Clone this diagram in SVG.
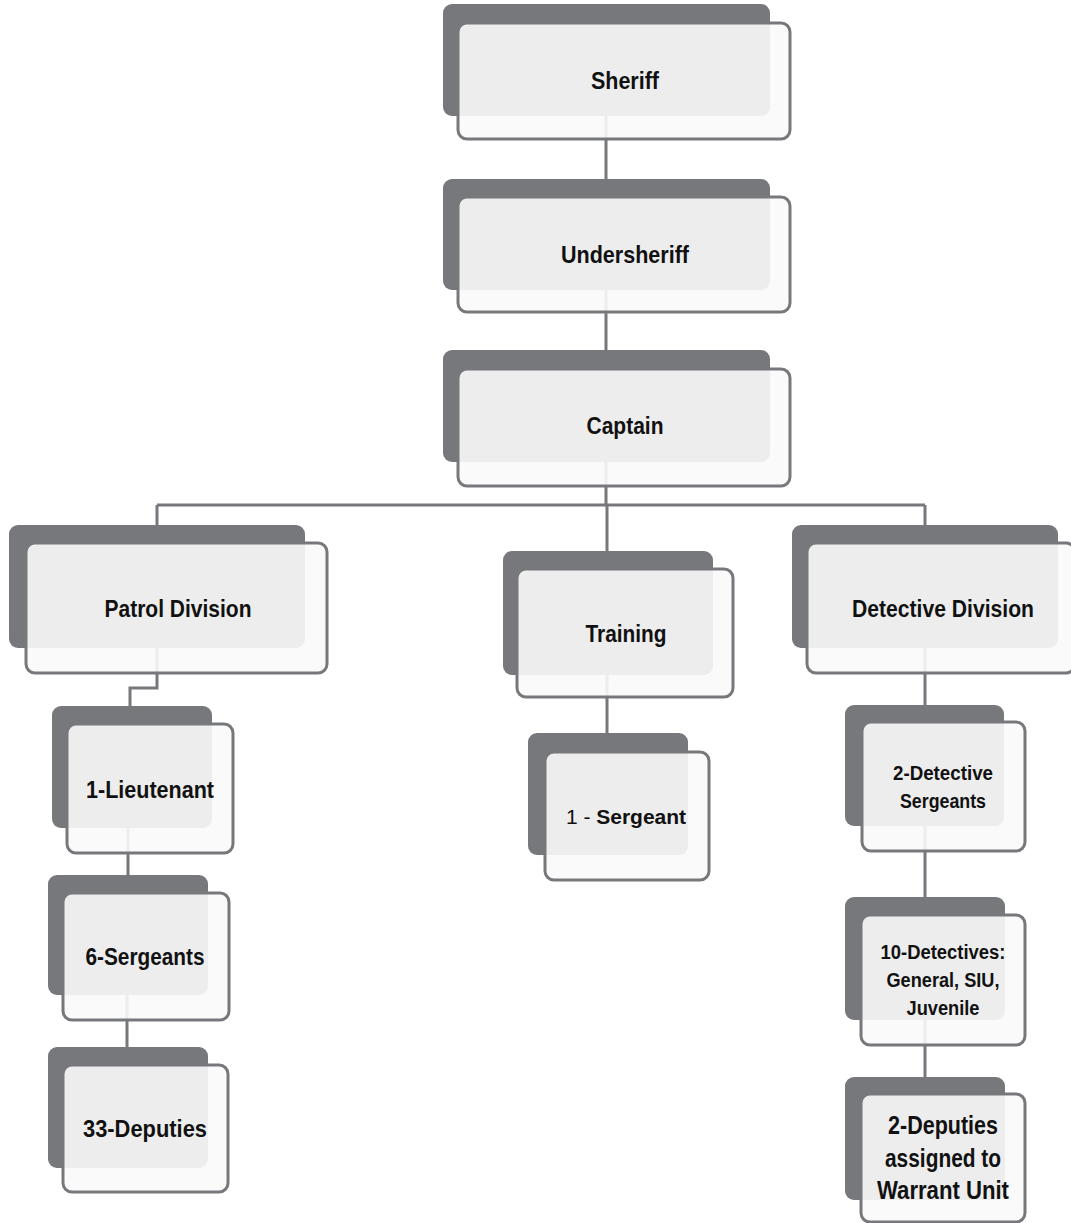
<svg xmlns="http://www.w3.org/2000/svg" width="1071" height="1223" viewBox="0 0 1071 1223">
<style>
.bk{fill:#77787c}
.fr{fill:#fafafa;fill-opacity:0.9;stroke:#77787c;stroke-width:3}
.t{font-family:"Liberation Sans",Arial,sans-serif;font-weight:bold;fill:#111;text-anchor:middle}
.n{font-weight:normal}
.c{fill:none;stroke:#77787c;stroke-width:3}
</style>
<rect width="1071" height="1223" fill="#fff"/>
<g id="connectors">
<path class="c" d="M606 110V185"/>
<path class="c" d="M606 285V356"/>
<path class="c" d="M606 455V505M157 505H925M157 505V530M607 505V556M925 505V530"/>
<path class="c" d="M157 640V688H130V712"/>
<path class="c" d="M128 820V880M127 990V1052"/>
<path class="c" d="M607 670V738"/>
<path class="c" d="M925 640V710M925 820V902M925 1015V1082"/>
</g>
<g id="sheriff">
<rect class="bk" x="443" y="4" width="327" height="112" rx="9"/>
<rect class="fr" x="458" y="23" width="332" height="116" rx="9"/>
<text class="t" x="625" y="89" font-size="24" textLength="68" lengthAdjust="spacingAndGlyphs">Sheriff</text>
</g>
<g id="undersheriff">
<rect class="bk" x="443" y="179" width="327" height="111" rx="9"/>
<rect class="fr" x="458" y="197" width="332" height="115" rx="9"/>
<text class="t" x="625" y="263" font-size="24" textLength="128" lengthAdjust="spacingAndGlyphs">Undersheriff</text>
</g>
<g id="captain">
<rect class="bk" x="443" y="350" width="327" height="112" rx="9"/>
<rect class="fr" x="458" y="369" width="332" height="117" rx="9"/>
<text class="t" x="625" y="434" font-size="24" textLength="77" lengthAdjust="spacingAndGlyphs">Captain</text>
</g>
<g id="patrol">
<rect class="bk" x="9" y="525" width="296" height="123" rx="9"/>
<rect class="fr" x="26" y="543" width="301" height="130" rx="9"/>
<text class="t" x="178" y="617" font-size="24" textLength="147" lengthAdjust="spacingAndGlyphs">Patrol Division</text>
</g>
<g id="training">
<rect class="bk" x="503" y="551" width="210" height="124" rx="9"/>
<rect class="fr" x="517" y="569" width="216" height="128" rx="9"/>
<text class="t" x="626" y="642" font-size="24" textLength="81" lengthAdjust="spacingAndGlyphs">Training</text>
</g>
<g id="detective">
<rect class="bk" x="792" y="525" width="266" height="123" rx="9"/>
<rect class="fr" x="807" y="543" width="268" height="130" rx="9"/>
<text class="t" x="943" y="617" font-size="24" textLength="182" lengthAdjust="spacingAndGlyphs">Detective Division</text>
</g>
<g id="lieutenant">
<rect class="bk" x="52" y="706" width="160" height="122" rx="9"/>
<rect class="fr" x="67" y="724" width="166" height="129" rx="9"/>
<text class="t" x="150" y="798" font-size="24" textLength="128" lengthAdjust="spacingAndGlyphs">1-Lieutenant</text>
</g>
<g id="sergeants6">
<rect class="bk" x="48" y="875" width="160" height="120" rx="9"/>
<rect class="fr" x="63" y="893" width="166" height="127" rx="9"/>
<text class="t" x="145" y="965" font-size="24" textLength="119" lengthAdjust="spacingAndGlyphs">6-Sergeants</text>
</g>
<g id="deputies33">
<rect class="bk" x="48" y="1047" width="160" height="121" rx="9"/>
<rect class="fr" x="63" y="1065" width="165" height="127" rx="9"/>
<text class="t" x="145" y="1137" font-size="24" textLength="124" lengthAdjust="spacingAndGlyphs">33-Deputies</text>
</g>
<g id="sergeant1">
<rect class="bk" x="528" y="733" width="160" height="122" rx="9"/>
<rect class="fr" x="545" y="752" width="164" height="128" rx="9"/>
<text class="t" x="626" y="824" font-size="21"><tspan class="n">1 - </tspan>Sergeant</text>
</g>
<g id="detsergeants">
<rect class="bk" x="845" y="705" width="159" height="121" rx="9"/>
<rect class="fr" x="862" y="722" width="163" height="129" rx="9"/>
<text class="t" x="943" y="780" font-size="20" textLength="100" lengthAdjust="spacingAndGlyphs">2-Detective</text>
<text class="t" x="943" y="808" font-size="20" textLength="86" lengthAdjust="spacingAndGlyphs">Sergeants</text>
</g>
<g id="detectives10">
<rect class="bk" x="845" y="897" width="160" height="123" rx="9"/>
<rect class="fr" x="861" y="915" width="164" height="130" rx="9"/>
<text class="t" x="943" y="959" font-size="20" textLength="125" lengthAdjust="spacingAndGlyphs">10-Detectives:</text>
<text class="t" x="943" y="987" font-size="20" textLength="113" lengthAdjust="spacingAndGlyphs">General, SIU,</text>
<text class="t" x="943" y="1015" font-size="20" textLength="73" lengthAdjust="spacingAndGlyphs">Juvenile</text>
</g>
<g id="warrant">
<rect class="bk" x="845" y="1077" width="160" height="123" rx="9"/>
<rect class="fr" x="861" y="1094" width="164" height="128" rx="9"/>
<text class="t" x="943" y="1134" font-size="25" textLength="110" lengthAdjust="spacingAndGlyphs">2-Deputies</text>
<text class="t" x="943" y="1167" font-size="25" textLength="116" lengthAdjust="spacingAndGlyphs">assigned to</text>
<text class="t" x="943" y="1199" font-size="25" textLength="132" lengthAdjust="spacingAndGlyphs">Warrant Unit</text>
</g>
</svg>
